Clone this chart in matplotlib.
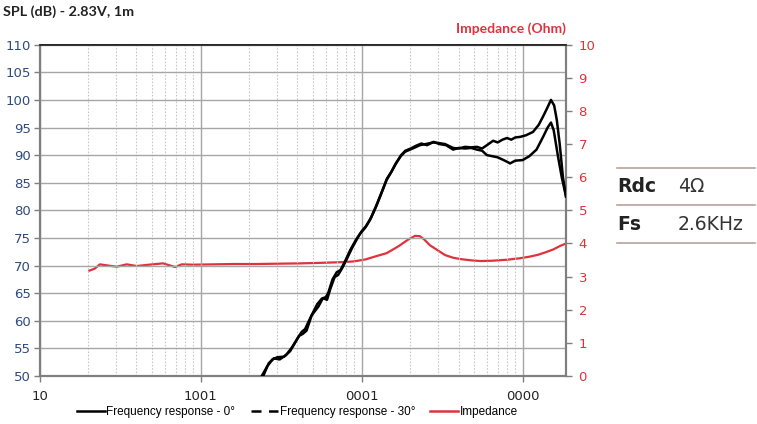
import numpy as np
import matplotlib
matplotlib.use("Agg")
import matplotlib.pyplot as plt
from matplotlib.lines import Line2D
from matplotlib.ticker import FixedLocator, LogLocator, NullFormatter

# SPL on axis, 0 deg
f0 = [240, 260, 280, 300, 330, 360, 400, 425, 446, 480, 530, 566, 600, 620, 660, 701,
      740, 790, 850, 920, 980, 1050, 1130, 1220, 1300, 1430, 1520, 1620, 1750, 1860,
      2000, 2150, 2300, 2500, 2780, 3000, 3300, 3700, 4000, 4400, 4800, 5200, 5600,
      6000, 6560, 7000, 7500, 8000, 8500, 9000, 9640, 10500, 11600, 12600, 13400,
      14200, 15000, 15700, 16300, 17000, 17800, 18600]
spl0 = [50, 51.8, 53, 53.4, 53.5, 54.5, 56.8, 58, 58.5, 60.5, 63, 64, 64.3, 65, 67.5, 68.8,
        69.2, 70.8, 72.8, 74.6, 75.8, 76.8, 78.3, 80.5, 82.5, 85.5, 86.8, 88.3, 89.8, 90.6,
        91, 91.4, 91.8, 92, 92.3, 92.2, 92, 91.3, 91.2, 91.5, 91.4, 91.5, 91.2,
        91.8, 92.6, 92.3, 92.8, 93.1, 92.8, 93.2, 93.3, 93.6, 94.2, 95.5, 97,
        98.5, 100, 99, 96.4, 92, 86, 82.5]

# SPL 30 deg
f30 = [245, 265, 285, 310, 340, 370, 410, 430, 455, 490, 540, 575, 610, 640, 680, 715,
       760, 810, 870, 940, 1000, 1070, 1150, 1240, 1320, 1435, 1540, 1640, 1760, 1870,
       2020, 2180, 2350, 2550, 2800, 3050, 3350, 3700, 4000, 4400, 4800, 5200, 5600,
       6000, 6500, 7000, 7500, 8000, 8360, 9000, 10000, 11000, 12200, 13400, 14300,
       15000, 15600, 16600, 17500, 18600]
spl30 = [50, 52.3, 53.2, 53.0, 53.8, 55.2, 57.3, 57.6, 58.2, 61, 62.6, 64.1, 63.8, 65.8, 67.9, 68.3,
         69.6, 71.2, 73.1, 74.9, 76.2, 77.2, 78.8, 80.9, 82.9, 85.7, 87.1, 88.6, 90, 90.8,
         91.2, 91.7, 92.1, 91.8, 92.4, 92.0, 91.8, 91.0, 91.3, 91.2, 91.3, 91.0, 90.8,
         90.0, 89.8, 89.6, 89.2, 88.8, 88.5, 89.0, 89.1, 89.8, 91.0, 93.3, 95.0,
         95.9, 94.5, 89.7, 86, 82.5]

# impedance
fz = [20.4, 22, 23.7, 27, 30.2, 34.8, 40.1, 48, 58.5, 69.4, 76.4, 90, 120, 160, 220, 300,
      420, 600, 790, 900, 1060, 1200, 1435, 1700, 1950, 2150, 2300, 2450, 2650, 3000,
      3300, 3700, 4100, 4800, 5500, 6500, 8000, 9500, 11000, 12500, 14000, 15500, 17000, 18600]
imp = [3.18, 3.24, 3.37, 3.33, 3.30, 3.37, 3.32, 3.36, 3.40, 3.29, 3.37, 3.36, 3.37, 3.38, 3.38, 3.39,
       3.40, 3.42, 3.44, 3.46, 3.52, 3.6, 3.71, 3.92, 4.12, 4.23, 4.22, 4.12, 3.95, 3.78,
       3.65, 3.57, 3.53, 3.49, 3.47, 3.48, 3.51, 3.55, 3.6, 3.66, 3.74, 3.82, 3.92, 4.0]

xticks = [10, 100, 1000, 10000]
xlabels = ["10", "1001", "0001", "0000"]

blue = "#2f4a7f"
red = "#e0323c"

fig = plt.figure(figsize=(7.57, 4.24), dpi=100)
ax = fig.add_axes([0.0522, 0.1132, 0.6955, 0.7814])
ax2 = ax.twinx()

ax.set_xscale("log")
ax.set_xlim(10, 18600)
ax.set_ylim(50, 110)
ax2.set_ylim(0, 10)

ax.xaxis.set_major_locator(FixedLocator(xticks))
ax.set_xticklabels(xlabels)
ax.xaxis.set_minor_locator(LogLocator(base=10, subs=np.arange(2, 10)))
ax.xaxis.set_minor_formatter(NullFormatter())
ax.set_yticks(np.arange(50, 111, 5))
ax2.set_yticks(np.arange(0, 11, 1))

ax.grid(True, which="major", axis="y", color="#a6a6a6", lw=1.0)
ax.grid(True, which="major", axis="x", color="#a6a6a6", lw=1.0)
ax.grid(True, which="minor", axis="x", color="#c8c8c8", lw=0.8, ls=(0, (1.5, 1.5)))
ax.set_axisbelow(True)

ax.tick_params(axis="y", which="major", colors="#7f7f7f", labelcolor=blue, labelsize=9.5,
               length=4, width=1, direction="out", pad=2)
ax.tick_params(axis="x", which="major", colors="#7f7f7f", labelcolor="#222222", labelsize=9.5,
               length=4, width=1, direction="out", pad=6)
ax.tick_params(axis="x", which="minor", length=0)
ax2.tick_params(axis="y", colors="#7f7f7f", labelcolor=red, labelsize=9.5,
                length=4, width=1, direction="out", pad=5)

for a in (ax, ax2):
    for s in ("left", "bottom", "right"):
        a.spines[s].set_color("#7f7f7f")
        a.spines[s].set_linewidth(1.5)
    a.spines["top"].set_color("#222222")
    a.spines["top"].set_linewidth(1.2)

ax.plot(f0, spl0, color="black", lw=1.8, zorder=3)
ax.plot(f30, spl30, color="black", lw=1.8, zorder=3)
ax2.plot(fz, imp, color=red, lw=1.6, zorder=2)
ax.set_zorder(ax2.get_zorder() + 1)
ax.patch.set_visible(False)

fig.text(3 / 757, 1 - 12 / 424, "SPL (dB) - 2.83V, 1m", fontsize=10.4, fontweight="bold",
         family="Lato", color="#222222", va="center", ha="left")
fig.text(566 / 757, 1 - 29 / 424, "Impedance (Ohm)", fontsize=10, fontweight="bold",
         family="Lato", color=red, va="center", ha="right")

handles = [Line2D([], [], color="black", lw=1.8),
           Line2D([], [], color="black", lw=1.8, ls=(0, (4, 3))),
           Line2D([], [], color=red, lw=1.8)]
leg = fig.legend(handles, ["Frequency response - 0°", "Frequency response - 30°", "Impedance"],
                 loc="center", bbox_to_anchor=(0.393, 1 - 412 / 424), ncol=3, frameon=False,
                 prop={"family": "Liberation Sans", "size": 8.5},
                 handlelength=2.3, handletextpad=0.15, columnspacing=1.3)

# spec table at right
line_c = "#b5a49b"
for yy in (168, 205, 243):
    fig.add_artist(Line2D([617 / 757, 755 / 757], [1 - yy / 424, 1 - yy / 424],
                          color=line_c, lw=1.2))
fig.text(617 / 757, 1 - 187 / 424, "Rdc", fontsize=13.5, fontweight="bold",
         family="DejaVu Sans", color="#222222", va="center")
fig.text(678 / 757, 1 - 187 / 424, "4Ω", fontsize=13.5, family="DejaVu Sans",
         color="#333333", va="center")
fig.text(617 / 757, 1 - 225 / 424, "Fs", fontsize=13.5, fontweight="bold",
         family="DejaVu Sans", color="#222222", va="center")
fig.text(678 / 757, 1 - 225 / 424, "2.6KHz", fontsize=13.5, family="DejaVu Sans",
         color="#333333", va="center")

fig.savefig("out.png", dpi=100)
